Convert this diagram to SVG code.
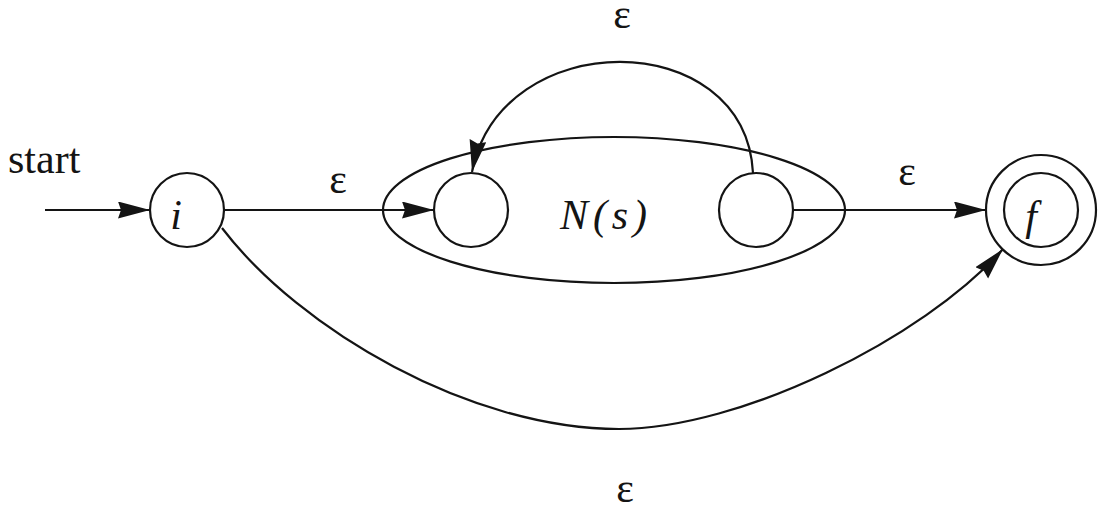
<svg xmlns="http://www.w3.org/2000/svg" width="1107" height="512" viewBox="0 0 1107 512">
  <style>
    .ln { fill: none; stroke: #141414; stroke-width: 2.2; }
    .st { fill: #fff; stroke: #141414; stroke-width: 2.2; }
    .lbl { font-family: "Liberation Serif", "Times New Roman", serif; font-size: 42px; fill: #141414; }
    .it { font-style: italic; }
  </style>
  <defs>
    <marker id="arr" markerUnits="userSpaceOnUse" markerWidth="34" markerHeight="18" refX="32" refY="8.5" orient="auto">
      <path d="M0,0 L32,8.5 L0,17 L3,8.5 Z" fill="#141414"/>
    </marker>
  </defs>
  <rect width="1107" height="512" fill="#fff"/>

  <g id="Ns">
    <ellipse class="ln" cx="614" cy="210" rx="231" ry="73"/>
    <text class="lbl it" x="560" y="229" textLength="87" lengthAdjust="spacing">N(s)</text>
  </g>

  <g id="connectors">
    <line class="ln" x1="45" y1="210" x2="150" y2="210" marker-end="url(#arr)"/>
    <text class="lbl" x="8" y="173">start</text>

    <line class="ln" x1="224" y1="210" x2="434" y2="210" marker-end="url(#arr)"/>
    <text class="lbl" x="338" y="193" text-anchor="middle">ε</text>

    <line class="ln" x1="793" y1="210" x2="986" y2="210" marker-end="url(#arr)"/>
    <text class="lbl" x="907" y="185" text-anchor="middle">ε</text>

    <path class="ln" d="M753,173 C745,25 500,25 472,172" marker-end="url(#arr)"/>
    <text class="lbl" x="622" y="28" text-anchor="middle">ε</text>

    <path class="ln" d="M222,228 C300,330 470,429 619,429 C740,429 923,339 1003,249" marker-end="url(#arr)"/>
    <text class="lbl" x="625" y="502" text-anchor="middle">ε</text>
  </g>

  <g id="node-i">
    <circle class="st" cx="187" cy="210" r="37"/>
    <text class="lbl it" x="176" y="229" text-anchor="middle">i</text>
  </g>

  <g id="node-n0">
    <circle class="st" cx="471" cy="210" r="37"/>
  </g>

  <g id="node-n1">
    <circle class="st" cx="756" cy="210" r="37"/>
  </g>

  <g id="node-f">
    <circle class="st" cx="1041" cy="210" r="55"/>
    <circle class="ln" cx="1041" cy="210" r="37"/>
    <text class="lbl it" x="1031" y="230" text-anchor="middle">f</text>
  </g>
</svg>
